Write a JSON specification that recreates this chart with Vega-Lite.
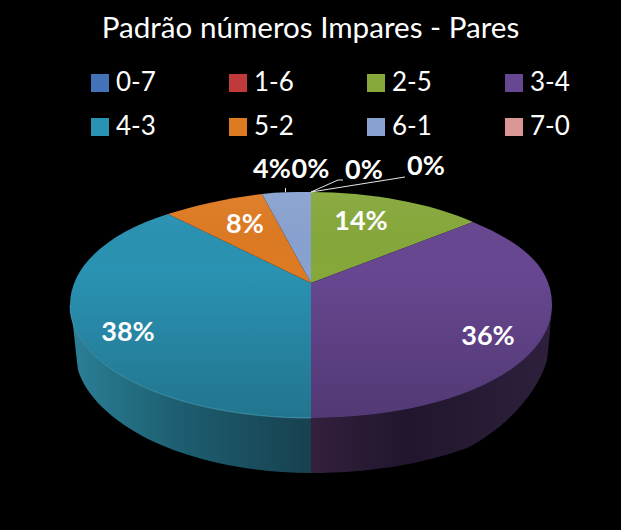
{
  "$schema": "https://vega.github.io/schema/vega-lite/v6.json",
  "description": "3D style pie: odd/even number patterns",
  "width": 621,
  "height": 530,
  "padding": 0,
  "autosize": "none",
  "background": "black",
  "title": {"text": "Padrão números Impares - Pares", "color": "white", "font": "Lato", "fontSize": 29.6, "fontWeight": "normal", "anchor": "middle", "frame": "group", "baseline": "middle", "offset": -59},
  "config": {"view": {"stroke": null}},
  "data": {
    "values": [
      {"pattern": "0-7", "pct": 0.0},
      {"pattern": "1-6", "pct": 0.0},
      {"pattern": "2-5", "pct": 0.14},
      {"pattern": "3-4", "pct": 0.36},
      {"pattern": "4-3", "pct": 0.38},
      {"pattern": "5-2", "pct": 0.08},
      {"pattern": "6-1", "pct": 0.04},
      {"pattern": "7-0", "pct": 0.0}
    ]
  },
  "encoding": {
    "color": {
      "field": "pattern", "type": "nominal",
      "scale": {"domain": ["0-7", "1-6", "2-5", "3-4", "4-3", "5-2", "6-1", "7-0"], "range": ["#4472b8", "#c0393b", "#86a83a", "#674791", "#2a92b2", "#de7a22", "#88a2d0", "#d99694"]},
      "legend": {"orient": "none", "direction": "horizontal", "legendX": 87, "legendY": 70, "columns": 4, "title": null, "padding": 0, "symbolType": "square", "symbolSize": 324, "symbolStrokeWidth": 0, "symbolOpacity": 1, "labelColor": "white", "labelFont": "Lato", "labelFontSize": 26, "labelOffset": 3, "columnPadding": 69, "rowPadding": 18}
    }
  },
  "layer": [
    {
      "mark": {"type": "point", "filled": true, "size": 0}
    },
    {
      "transform": [{"filter": "datum.pattern == '4-3'"}],
      "mark": {
        "type": "point", "filled": true, "size": 4, "opacity": 1,
        "shape": "M-240.5 40C-237 60 -235 85 -232.5 105C-225 130 -200 155 -160.5 175C-115 197 -55 208 0.5 208L0.5 153C-130.5 153 -240.5 105 -240.5 40Z",
        "fill": {"gradient": "linear", "x1": 0, "y1": 0, "x2": 1, "y2": 0, "stops": [{"offset": 0, "color": "#2b8097"}, {"offset": 0.45, "color": "#1d5e70"}, {"offset": 1, "color": "#17414f"}]}
      },
      "encoding": {"color": {"value": null}}
    },
    {
      "transform": [{"filter": "datum.pattern == '3-4'"}],
      "mark": {
        "type": "point", "filled": true, "size": 4, "opacity": 1,
        "shape": "M0.5 153C134.5 153 241.5 105 241.5 40C240 60 238 85 236.5 95C228 125 200 160 156.5 183C110 200 55 208 0.5 208Z",
        "fill": {"gradient": "linear", "x1": 0, "y1": 0, "x2": 1, "y2": 0, "stops": [{"offset": 0, "color": "#33203d"}, {"offset": 0.4, "color": "#21162d"}, {"offset": 1, "color": "#2e203c"}]}
      },
      "encoding": {"color": {"value": null}}
    },
    {
      "transform": [{"filter": "datum.pattern == '2-5'"}],
      "mark": {"type": "point", "filled": true, "size": 4, "opacity": 1, "shape": "M0.5 18L0.5 -73C59.5 -73 119.5 -62 162.5 -43Z"}
    },
    {
      "transform": [{"filter": "datum.pattern == '3-4'"}],
      "mark": {"type": "point", "filled": true, "size": 4, "opacity": 1, "shape": "M0.5 18L162.5 -43C199.5 -27 241.5 -5 241.5 40C241.5 105 134.5 153 0.5 153Z"}
    },
    {
      "transform": [{"filter": "datum.pattern == '4-3'"}],
      "mark": {"type": "point", "filled": true, "size": 4, "opacity": 1, "shape": "M0.5 18L0.5 153C-130.5 153 -240.5 105 -240.5 40C-240.5 0 -200.5 -33 -142.5 -51Z"}
    },
    {
      "transform": [{"filter": "datum.pattern == '5-2'"}],
      "mark": {"type": "point", "filled": true, "size": 4, "opacity": 1, "shape": "M0.5 18L-142.5 -51C-113.5 -60 -82.5 -67 -48.5 -71Z"}
    },
    {
      "transform": [{"filter": "datum.pattern == '6-1'"}],
      "mark": {"type": "point", "filled": true, "size": 4, "opacity": 1, "shape": "M0.5 18L-48.5 -71C-32.5 -73 -15.5 -73 0.5 -73Z"}
    },
    {
      "data": {"values": [{"face": "top"}]},
      "mark": {
        "type": "point", "filled": true, "size": 4, "opacity": 1,
        "shape": "M0.5 -73C59.5 -73 119.5 -62 162.5 -43C199.5 -27 241.5 -5 241.5 40C241.5 105 134.5 153 0.5 153C-130.5 153 -240.5 105 -240.5 40C-240.5 0 -200.5 -33 -142.5 -51C-113.5 -60 -82.5 -67 -48.5 -71C-32.5 -73 -15.5 -73 0.5 -73Z",
        "fill": {"gradient": "linear", "x1": 0, "y1": 0, "x2": 0, "y2": 1, "stops": [{"offset": 0, "color": "rgba(255,255,255,0.05)"}, {"offset": 0.35, "color": "rgba(0,0,0,0)"}, {"offset": 1, "color": "rgba(0,0,0,0.2)"}]}
      },
      "encoding": {"color": {"value": null}}
    },
    {
      "data": {"values": [{"face": "rim"}]},
      "mark": {
        "type": "point", "filled": false, "size": 4, "opacity": 1, "stroke": "#5fb4cc", "strokeWidth": 0.8, "strokeOpacity": 0.7,
        "shape": "M-240.5 40C-240.5 105 -130.5 153 0.5 153"
      },
      "encoding": {"color": {"value": null}}
    },
    {
      "data": {"values": [{"face": "leaders"}]},
      "mark": {
        "type": "point", "filled": false, "size": 4, "opacity": 1, "stroke": "#e8e8e8", "strokeWidth": 1,
        "shape": "M0.5 -73L27.5 -85L32.5 -85M0.5 -73L94.5 -88M-25 -73L-25 -77"
      },
      "encoding": {"color": {"value": null}}
    },
    {
      "transform": [{"filter": "datum.pattern == '6-1'"}],
      "mark": {"type": "text", "font": "Lato", "fontSize": 27, "fontWeight": "bold", "baseline": "middle", "dx": -38.5, "dy": -95},
      "encoding": {"color": {"value": "white"}, "text": {"field": "pct", "type": "quantitative", "format": ".0%"}}
    },
    {
      "transform": [{"filter": "datum.pattern == '7-0'"}],
      "mark": {"type": "text", "font": "Lato", "fontSize": 27, "fontWeight": "bold", "baseline": "middle", "dx": 0, "dy": -95},
      "encoding": {"color": {"value": "white"}, "text": {"field": "pct", "type": "quantitative", "format": ".0%"}}
    },
    {
      "transform": [{"filter": "datum.pattern == '0-7'"}],
      "mark": {"type": "text", "font": "Lato", "fontSize": 27, "fontWeight": "bold", "baseline": "middle", "dx": 53.5, "dy": -94},
      "encoding": {"color": {"value": "white"}, "text": {"field": "pct", "type": "quantitative", "format": ".0%"}}
    },
    {
      "transform": [{"filter": "datum.pattern == '1-6'"}],
      "mark": {"type": "text", "font": "Lato", "fontSize": 27, "fontWeight": "bold", "baseline": "middle", "dx": 115.5, "dy": -98},
      "encoding": {"color": {"value": "white"}, "text": {"field": "pct", "type": "quantitative", "format": ".0%"}}
    },
    {
      "transform": [{"filter": "datum.pattern == '2-5'"}],
      "mark": {"type": "text", "font": "Lato", "fontSize": 27, "fontWeight": "bold", "baseline": "middle", "dx": 50.5, "dy": -43},
      "encoding": {"color": {"value": "white"}, "text": {"field": "pct", "type": "quantitative", "format": ".0%"}}
    },
    {
      "transform": [{"filter": "datum.pattern == '3-4'"}],
      "mark": {"type": "text", "font": "Lato", "fontSize": 27, "fontWeight": "bold", "baseline": "middle", "dx": 177.5, "dy": 72},
      "encoding": {"color": {"value": "white"}, "text": {"field": "pct", "type": "quantitative", "format": ".0%"}}
    },
    {
      "transform": [{"filter": "datum.pattern == '4-3'"}],
      "mark": {"type": "text", "font": "Lato", "fontSize": 27, "fontWeight": "bold", "baseline": "middle", "dx": -182.5, "dy": 68},
      "encoding": {"color": {"value": "white"}, "text": {"field": "pct", "type": "quantitative", "format": ".0%"}}
    },
    {
      "transform": [{"filter": "datum.pattern == '5-2'"}],
      "mark": {"type": "text", "font": "Lato", "fontSize": 27, "fontWeight": "bold", "baseline": "middle", "dx": -65.5, "dy": -40},
      "encoding": {"color": {"value": "white"}, "text": {"field": "pct", "type": "quantitative", "format": ".0%"}}
    }
  ]
}
